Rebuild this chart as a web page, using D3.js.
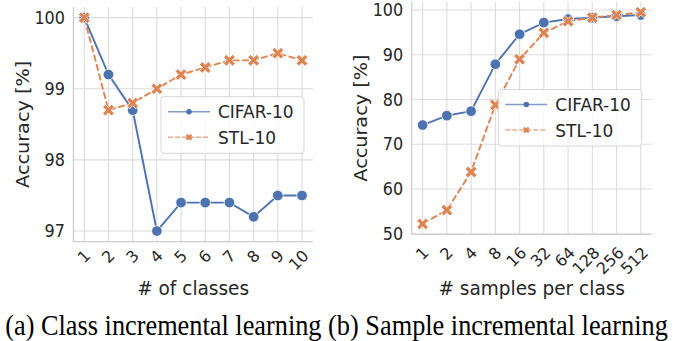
<!DOCTYPE html>
<html><head><meta charset="utf-8">
<script src="https://cdn.jsdelivr.net/npm/d3@7"></script>
<style>body{margin:0;background:#fff}svg{display:block}</style>
</head><body>
<svg id="c" width="673" height="341"></svg>
<script>
// ---- data ----
const classLabels = ["1","2","3","4","5","6","7","8","9","10"];
const classCifar = [100, 99.2, 98.7, 97.0, 97.4, 97.4, 97.4, 97.2, 97.5, 97.5];
const classStl   = [100, 98.7, 98.8, 99.0, 99.2, 99.3, 99.4, 99.4, 99.5, 99.4];
const classYTicks = [97, 98, 99, 100];

const sampleLabels = ["1","2","4","8","16","32","64","128","256","512"];
const sampleCifar = [74.3, 76.4, 77.4, 87.9, 94.6, 97.2, 98.0, 98.3, 98.6, 98.9];
const sampleStl   = [52.2, 55.3, 63.8, 78.8, 89.0, 94.9, 97.5, 98.3, 98.9, 99.5];
const sampleYTicks = [50, 60, 70, 80, 90, 100];

const seriesNames = ["CIFAR-10", "STL-10"];
const captionText = "(a) Class incremental learning (b) Sample incremental learning";

// ---- style ----
const BLUE = "#4c72b0", ORANGE = "#dd8452";
const GRID = "#dcdcdc", SPINE = "#cccccc", TXT = "#262626";
const FONT = "DejaVu Sans";
const SY = 1.08; // vertical text stretch seen in reference
const svg = d3.select("#c");

function xShape(L, w) {
  const p = [[w,L],[w,w],[L,w],[L,-w],[w,-w],[w,-L],[-w,-L],[-w,-w],[-L,-w],[-L,w],[-w,w],[-w,L]];
  const c = Math.SQRT1_2;
  return "M" + p.map(([x,y]) => [(x - y) * c, (x + y) * c].map(v => v.toFixed(2)).join(",")).join("L") + "Z";
}

function stretchedText(parent, x, y, size, str, anchor, sy) {
  return parent.append("text")
    .attr("transform", `translate(${x},${y}) scale(1,${sy})`)
    .attr("text-anchor", anchor).attr("font-family", FONT).attr("font-size", size).attr("fill", TXT)
    .text(str);
}

function panel(cfg) {
  const g = svg.append("g");
  const n = cfg.labels.length;
  const x = d3.scaleLinear().domain([-0.45, n - 1 + 0.45]).range([cfg.left, cfg.right]);
  const yMin = d3.min(cfg.a.concat(cfg.b)), yMax = d3.max(cfg.a.concat(cfg.b));
  const m = (yMax - yMin) * 0.05;
  const y = d3.scaleLinear().domain([yMin - m, yMax + m]).range([cfg.bottom, cfg.top]);

  // grid
  g.append("g").selectAll("line").data(d3.range(n)).join("line")
    .attr("x1", d => x(d)).attr("x2", d => x(d)).attr("y1", cfg.top).attr("y2", cfg.bottom)
    .attr("stroke", GRID).attr("stroke-width", 1.1);
  g.append("g").selectAll("line").data(cfg.yTicks).join("line")
    .attr("x1", cfg.left).attr("x2", cfg.right).attr("y1", d => y(d)).attr("y2", d => y(d))
    .attr("stroke", GRID).attr("stroke-width", 1.1);
  // spines
  g.append("line").attr("x1", cfg.left).attr("x2", cfg.left).attr("y1", cfg.top).attr("y2", cfg.bottom)
    .attr("stroke", SPINE).attr("stroke-width", 1.2);
  g.append("line").attr("x1", cfg.left).attr("x2", cfg.right).attr("y1", cfg.bottom).attr("y2", cfg.bottom)
    .attr("stroke", SPINE).attr("stroke-width", 1.2);

  // y tick labels
  cfg.yTicks.forEach(d => {
    stretchedText(g, cfg.left - 8.5, y(d) + 6.2, 16, d, "end", SY);
  });
  // x tick labels rotated
  const xt = g.append("g").selectAll("g").data(cfg.labels).join("g");
  xt.each(function(d, i) {
    const gg = d3.select(this);
    const t = gg.append("text").attr("font-family", FONT).attr("font-size", 16).attr("fill", TXT)
      .attr("text-anchor", "middle").attr("dy", "0.35em").text(d);
    const w = t.node().getComputedTextLength();
    const h = 12;
    const half = (w + h) * Math.SQRT1_2 / 2;
    const cx = x(i) - Math.max(0, w - 9) * 0.3;
    const cy = cfg.bottom + cfg.tickPad + half;
    gg.attr("transform", `translate(${cx},${cy}) rotate(-45)`);
  });
  // axis labels
  stretchedText(g, (cfg.left + cfg.right) / 2, cfg.xLabelY, 18.5, cfg.xLabel, "middle", 1.04);
  g.append("text").attr("transform", `translate(${cfg.yLabelX},${(cfg.top + cfg.bottom) / 2}) rotate(-90) scale(1.04,1)`)
    .attr("text-anchor", "middle").attr("font-family", FONT).attr("font-size", 18.5).attr("fill", TXT)
    .text("Accuracy [%]");

  // lines
  const line = d3.line().x((d, i) => x(i)).y(d => y(d));
  g.append("path").datum(cfg.a).attr("d", line).attr("fill", "none")
    .attr("stroke", BLUE).attr("stroke-width", 1.9);
  g.append("path").datum(cfg.b).attr("d", line).attr("fill", "none")
    .attr("stroke", ORANGE).attr("stroke-width", 1.9).attr("stroke-dasharray", "7,2.6");
  // markers
  g.append("g").selectAll("circle").data(cfg.a).join("circle")
    .attr("cx", (d, i) => x(i)).attr("cy", d => y(d)).attr("r", 5.3)
    .attr("fill", BLUE).attr("stroke", "#fff").attr("stroke-width", 0.8);
  g.append("g").selectAll("path").data(cfg.b).join("path")
    .attr("transform", (d, i) => `translate(${x(i)},${y(d)})`).attr("d", xShape(6.3, 1.95))
    .attr("fill", ORANGE).attr("stroke", "#fff").attr("stroke-width", 0.8);

  // legend
  const L = cfg.legend;
  const lg = g.append("g");
  lg.append("rect").attr("x", L.x).attr("y", L.y).attr("width", L.w).attr("height", L.h)
    .attr("rx", 3).attr("fill", "#fff").attr("fill-opacity", 0.85).attr("stroke", "#d6d6d6").attr("stroke-width", 1);
  const cols = [BLUE, ORANGE];
  seriesNames.forEach((name, k) => {
    const yy = L.y + L.row0 + k * L.rowGap;
    lg.append("line").attr("x1", L.x + 7).attr("x2", L.x + 49).attr("y1", yy).attr("y2", yy)
      .attr("stroke", cols[k]).attr("stroke-opacity", 0.7).attr("stroke-width", 1.5)
      .attr("stroke-dasharray", k ? "5,2" : null);
    if (k === 0) lg.append("circle").attr("cx", L.x + 28).attr("cy", yy).attr("r", 2.8).attr("fill", BLUE);
    else lg.append("path").attr("transform", `translate(${L.x + 28},${yy})`).attr("d", xShape(3.4, 1.2)).attr("fill", ORANGE);
    stretchedText(lg, L.x + 57, yy + 6.6, 17, name, "start", 1.04);
  });
}

panel({labels: classLabels, a: classCifar, b: classStl, yTicks: classYTicks,
  left: 73.4, right: 312.9, top: 7, bottom: 241.7, tickPad: 7,
  xLabel: "# of classes", xLabelY: 294.5, yLabelX: 29,
  legend: {x: 161, y: 96.7, w: 143, h: 56.6, row0: 15, rowGap: 25.6}});

panel({labels: sampleLabels, a: sampleCifar, b: sampleStl, yTicks: sampleYTicks,
  left: 411.7, right: 651.7, top: 1.7, bottom: 234.5, tickPad: 11,
  xLabel: "# samples per class", xLabelY: 294.5, yLabelX: 367,
  legend: {x: 498.3, y: 89.5, w: 143.4, h: 56.6, row0: 15, rowGap: 25.6}});

// caption
const cap = svg.append("text").attr("x", 0).attr("y", 0).attr("text-anchor", "middle")
  .attr("font-family", "Liberation Serif").attr("font-size", 22).attr("fill", "#000").text(captionText);
const cw = cap.node().getComputedTextLength();
cap.attr("font-size", 22 * 663 / cw).attr("transform", "translate(336.5,335) scale(1,1.1)");
</script>
</body></html>
